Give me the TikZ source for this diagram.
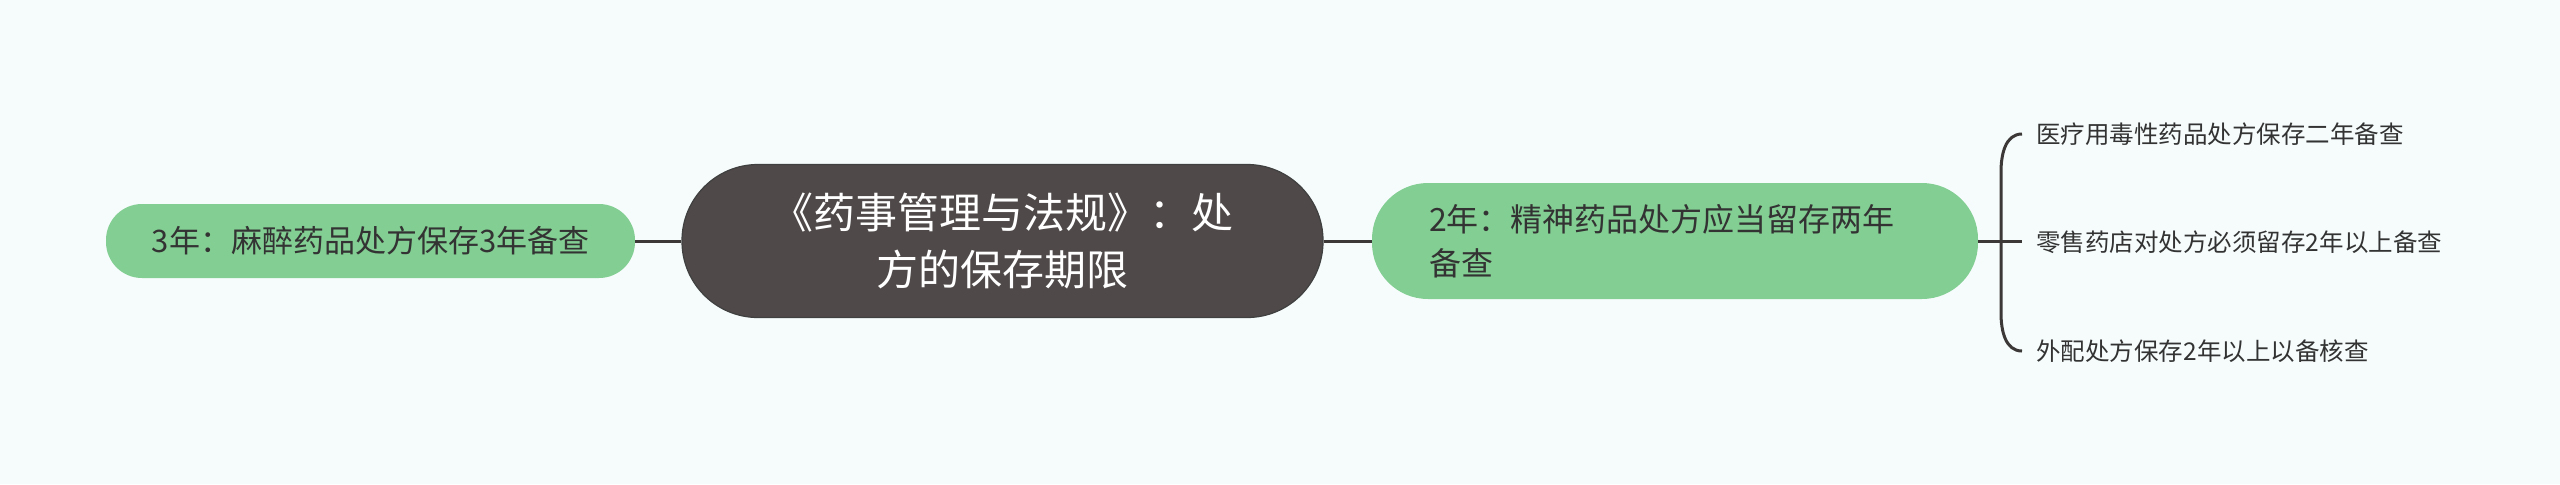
\documentclass[tikz,border=0pt]{standalone}
\usepackage{fontspec}
\setmainfont{Noto Sans CJK SC}
\usetikzlibrary{calc}
\definecolor{bgcol}{HTML}{F6FCFC}
\definecolor{leafgreen}{HTML}{83CE93}
\definecolor{rootgray}{HTML}{4F4949}
\definecolor{linegray}{HTML}{3D3838}
\definecolor{txtdark}{HTML}{333333}
\begin{document}
\begin{tikzpicture}[x=0.5pt,y=-0.5pt,
	root/.style={fill=rootgray, draw=black!75, line width=0.6pt, rounded corners=38pt, minimum width=320.5pt, minimum height=76.5pt, text=white, align=center, font=\fontsize{21pt}{28.5pt}\selectfont},
	topic/.style={fill=leafgreen, rounded corners=18pt, text=txtdark, font=\fontsize{16pt}{22pt}\selectfont},
	leaf/.style={anchor=west, inner xsep=7pt, text=txtdark, font=\fontsize{12.25pt}{15pt}\selectfont},
	conn/.style={draw=linegray, line width=1.5pt}]
	
	\fill[bgcol] (0,0) rectangle (2560,484);
	\useasboundingbox (0,0) rectangle (2560,484);
	
	\node[root] (center) at (1002.5,241) {《药事管理与法规》：处\\方的保存期限};
	\node[topic, minimum width=264.5pt, minimum height=37pt, font=\fontsize{15.5pt}{20pt}\selectfont] (threeyr) at (370.5,241) {3年：麻醉药品处方保存3年备查};
	\node[topic, rounded corners=28pt, minimum height=58pt, inner xsep=28.5pt, text width=246pt, align=left] (twoyr) at (1675,241) {2年：精神药品处方应当留存两年\\备查};
	
	\node[leaf] (poison) at (2022,134) {医疗用毒性药品处方保存二年备查};
	\node[leaf] (retail) at (2022,242) {零售药店对处方必须留存2年以上备查};
	\node[leaf] (extern) at (2022,351) {外配处方保存2年以上以备核查};
	\coordinate (fork) at (2001,241);
	
	\draw[conn] (threeyr.east) -- (center.west);
	\draw[conn] (center.east) -- (twoyr.west);
	\draw[conn] (twoyr.east) -- (retail.west |- twoyr.east);
	\draw[conn] (poison.west) to[out=180, in=90] ($(fork |- poison.west)+(0,38)$) -- ($(fork |- extern.west)+(0,-38)$) to[out=-90, in=180] (extern.west);
\end{tikzpicture}
\end{document}
